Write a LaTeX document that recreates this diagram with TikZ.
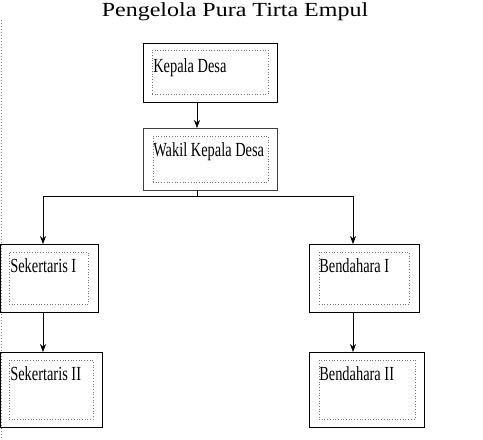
\documentclass[tikz,border=0pt]{standalone}
\usepackage{fontspec}
\usepackage{tikz}
\usetikzlibrary{arrows.meta}
\newfontfamily\boxfont[FakeStretch=0.72]{Liberation Serif}
\newfontfamily\titlefont[FakeStretch=1.2]{Liberation Serif}
\tikzstyle{outer} = [rectangle, draw, line width=0.9pt, inner sep=0pt, outer sep=0pt]
\tikzstyle{inner} = [rectangle, draw=black!55, dotted, line width=0.7pt, inner sep=0pt, outer sep=0pt]
\tikzstyle{post} = [anchor=base west, inner sep=0pt, font=\boxfont\fontsize{20}{20}\selectfont]

\begin{document}
\begin{tikzpicture}[x=1pt,y=-1pt,->,>={Stealth[length=8pt,width=6pt]},semithick]
  \useasboundingbox (0,0) rectangle (483,440);
  \node[anchor=base, inner sep=0pt, font=\titlefont\fontsize{20}{20}\selectfont] (title) at (235,16) {Pengelola Pura Tirta Empul};
  \draw[-, black!50, dotted, line width=1pt] (1.5,20) -- (1.5,440);

  % outer boxes
  \node[outer, minimum width=134pt, minimum height=59pt] (KD) at (210,72.5) {};
  \node[outer, draw=black!75, minimum width=134pt, minimum height=62pt] (WKD) at (210,159) {};
  \node[outer, minimum width=98pt, minimum height=68pt] (S1) at (49.5,278) {};
  \node[outer, minimum width=102pt, minimum height=75pt] (S2) at (51.5,389.5) {};
  \node[outer, minimum width=110pt, minimum height=68pt] (B1) at (364,278) {};
  \node[outer, minimum width=115pt, minimum height=75pt] (B2) at (366.5,389.5) {};

  % dotted inner boxes
  \node[inner, minimum width=116pt, minimum height=44pt] (KD_in) at (210,72) {};
  \node[inner, minimum width=115pt, minimum height=46pt] (WKD_in) at (210.5,159) {};
  \node[inner, minimum width=79pt, minimum height=52pt] (S1_in) at (48.5,278) {};
  \node[inner, minimum width=84pt, minimum height=59pt] (S2_in) at (51,389.5) {};
  \node[inner, minimum width=90pt, minimum height=52pt] (B1_in) at (364,278) {};
  \node[inner, minimum width=96pt, minimum height=59pt] (B2_in) at (367,389.5) {};

  \node[post] (KD_t) at ([shift={(1,22)}]KD_in.north west) {Kepala Desa};
  \node[post] (WKD_t) at ([shift={(0,20)}]WKD_in.north west) {Wakil Kepala Desa};
  \node[post] (S1_t) at ([shift={(1,20)}]S1_in.north west) {Sekertaris I};
  \node[post] (S2_t) at ([shift={(1,20)}]S2_in.north west) {Sekertaris II};
  \node[post] (B1_t) at ([shift={(0,20)}]B1_in.north west) {Bendahara I};
  \node[post] (B2_t) at ([shift={(0,20)}]B2_in.north west) {Bendahara II};

  \coordinate (bar) at (197,196);
  \coordinate (left) at (43,0);
  \coordinate (right) at (353,0);

  \path (KD.south -| bar) edge (WKD.north -| bar);
  \draw[-] (WKD.south -| bar) -- (bar);
  \draw (bar) -| (S1.north -| left);
  \draw (bar) -| (B1.north -| right);
  \path (S1.south -| left) edge (S2.north -| left);
  \path (B1.south -| right) edge (B2.north -| right);
\end{tikzpicture}
\end{document}
